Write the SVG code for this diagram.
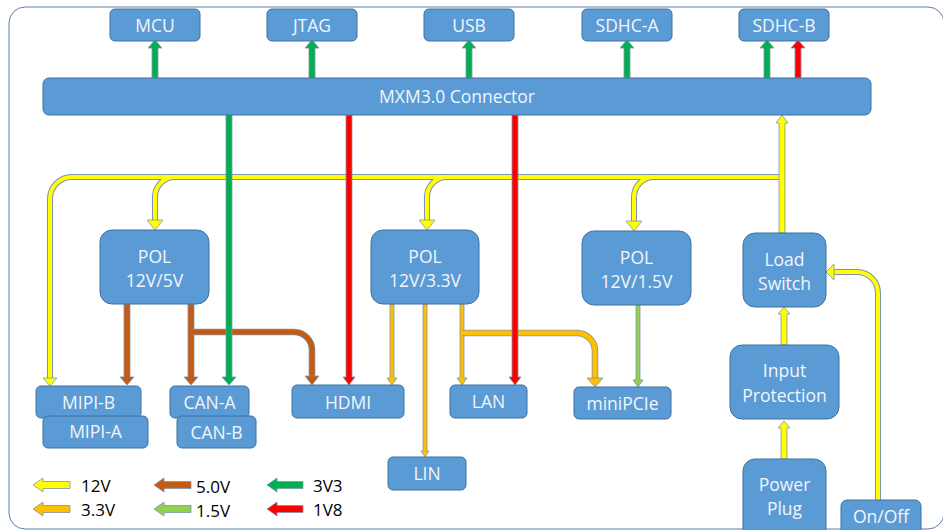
<svg xmlns="http://www.w3.org/2000/svg" xmlns:xlink="http://www.w3.org/1999/xlink" width="943" height="530" viewBox="0 0 943 530">
<style>
.box{fill:#5B9BD5;stroke:#41719C;stroke-width:1}
.lbl{font-family:"Open Sans","Liberation Sans",sans-serif;font-size:17.5px;fill:#F2F5FA;text-anchor:middle}
.leg{font-family:"Open Sans","Liberation Sans",sans-serif;font-size:17px;fill:#000}
.blk{stroke:#7E93AE;stroke-width:0.8;stroke-linejoin:miter}
.wo{fill:none;stroke:#7E93AE;stroke-linejoin:round}
.wf{fill:none;stroke-linejoin:round}
.y{fill:#FFFF00}.o{fill:#FFC000}.b{fill:#C55A11}.g{fill:#00B050}.r{fill:#FF0000}.lg{fill:#92D050}
</style>
<defs>
<path id="w1" d="M 780 177 H 72 A 22 22 0 0 0 50 199 V 379"/>
<path id="w2" d="M 780 177 H 175 A 20 20 0 0 0 155 197 V 221"/>
<path id="w3" d="M 780 177 H 447 A 20 20 0 0 0 427 197 V 221"/>
<path id="w4" d="M 780 177 H 654 A 20 20 0 0 0 634 197 V 222"/>
<path id="w5" d="M 878 500 V 293 A 21 21 0 0 0 857 272 H 833"/>
<path id="wb" d="M 191 332 H 294 A 18 18 0 0 1 312 350 V 377"/>
<path id="wo" d="M 462 333 H 577 A 18 18 0 0 1 595 351 V 379"/>
</defs>
<rect id="frame" x="9" y="7" width="935" height="522" rx="16" fill="none" stroke="#5B7FA6" stroke-width="1"/>
<g id="connectors">
<!-- top 3V3/1V8 arrows -->
<polygon class="blk g" points="152,78 152,48 148,48 155,40 162,48 158,48 158,78"/>
<polygon class="blk g" points="309,78 309,48 305,48 312,40 319,48 315,48 315,78"/>
<polygon class="blk g" points="466,78 466,48 462,48 469,40 476,48 472,48 472,78"/>
<polygon class="blk g" points="624,78 624,48 620,48 627,40 634,48 630,48 630,78"/>
<polygon class="blk g" points="764,78 764,48 760,48 767,40 774,48 770,48 770,78"/>
<polygon class="blk r" points="795,78 795,48 791,48 798,40 805,48 801,48 801,78"/>
<!-- 12V wires: outlines first, then fills -->
<use xlink:href="#w1" class="wo" stroke-width="6"/>
<use xlink:href="#w2" class="wo" stroke-width="6"/>
<use xlink:href="#w3" class="wo" stroke-width="6"/>
<use xlink:href="#w4" class="wo" stroke-width="6"/>
<use xlink:href="#w5" class="wo" stroke-width="6"/>
<use xlink:href="#w1" class="wf" stroke="#FFFF00" stroke-width="4"/>
<use xlink:href="#w2" class="wf" stroke="#FFFF00" stroke-width="4"/>
<use xlink:href="#w3" class="wf" stroke="#FFFF00" stroke-width="4"/>
<use xlink:href="#w4" class="wf" stroke="#FFFF00" stroke-width="4"/>
<use xlink:href="#w5" class="wf" stroke="#FFFF00" stroke-width="4"/>
<polygon class="blk y" points="43,378 57,378 50,386"/>
<polygon class="blk y" points="147,220 163,220 155,230"/>
<polygon class="blk y" points="419,220 435,220 427,230"/>
<polygon class="blk y" points="626,221 642,221 634,231"/>
<polygon class="blk y" points="834,264 834,280 826,272"/>
<polygon class="blk y" points="779,233 779,123 776,123 782,115 788,123 785,123 785,233"/>
<polygon class="blk y" points="781,345 781,314 778,314 784,307 790,314 787,314 787,345"/>
<polygon class="blk y" points="781,459 781,428 778,428 784,421 790,428 787,428 787,459"/>
<!-- 5.0V -->
<polygon class="blk b" points="124,304 124,377 120,377 127,385 134,377 130,377 130,304"/>
<polygon class="blk b" points="188,304 188,377 184,377 191,385 198,377 194,377 194,304"/>
<use xlink:href="#wb" class="wo" stroke-width="6.6"/>
<use xlink:href="#wb" class="wf" stroke="#C55A11" stroke-width="5"/>
<polygon class="blk b" points="305,376 319,376 312,385"/>
<!-- 3.3V -->
<polygon class="blk o" points="390,304 390,378 387,378 392,385 397,378 394,378 394,304"/>
<polygon class="blk o" points="423,304 423,451 421,451 425,457 429,451 427,451 427,304"/>
<polygon class="blk o" points="460,304 460,378 457,378 462,385 467,378 464,378 464,304"/>
<use xlink:href="#wo" class="wo" stroke-width="6.6"/>
<use xlink:href="#wo" class="wf" stroke="#FFC000" stroke-width="5"/>
<polygon class="blk o" points="587,378 603,378 595,387"/>
<!-- 1.5V -->
<polygon class="blk lg" points="636,305 636,380 633,380 638,387 643,380 640,380 640,305"/>
<!-- 3V3 / 1V8 from connector -->
<polygon class="blk g" points="226,115 226,377 222,377 229,385 236,377 232,377 232,115"/>
<polygon class="blk r" points="346,115 346,377 343,377 349,385 355,377 352,377 352,115"/>
<polygon class="blk r" points="512,115 512,377 509,377 515,385 521,377 518,377 518,115"/>
</g>
<g id="n-mcu"><rect class="box" x="110" y="9" width="90" height="32" rx="5"/><text class="lbl" x="155" y="32">MCU</text></g>
<g id="n-jtag"><rect class="box" x="267" y="9" width="90" height="32" rx="5"/><text class="lbl" x="312" y="32">JTAG</text></g>
<g id="n-usb"><rect class="box" x="424" y="9" width="90" height="32" rx="5"/><text class="lbl" x="469" y="32">USB</text></g>
<g id="n-sdhca"><rect class="box" x="582" y="9" width="90" height="32" rx="5"/><text class="lbl" x="627" y="32">SDHC-A</text></g>
<g id="n-sdhcb"><rect class="box" x="739" y="9" width="90" height="32" rx="5"/><text class="lbl" x="784" y="32">SDHC-B</text></g>
<g id="n-mxm"><rect class="box" x="43" y="78" width="828" height="37" rx="6"/><text class="lbl" x="457" y="103">MXM3.0 Connector</text></g>
<g id="n-pol5"><rect class="box" x="100" y="230" width="109" height="74" rx="12"/><text class="lbl" x="154.5" y="263">POL</text><text class="lbl" x="154.5" y="287">12V/5V</text></g>
<g id="n-pol33"><rect class="box" x="371" y="230" width="108" height="74" rx="12"/><text class="lbl" x="425" y="263">POL</text><text class="lbl" x="425" y="287">12V/3.3V</text></g>
<g id="n-pol15"><rect class="box" x="582" y="231" width="109" height="74" rx="12"/><text class="lbl" x="636.5" y="264">POL</text><text class="lbl" x="636.5" y="288">12V/1.5V</text></g>
<g id="n-load"><rect class="box" x="743" y="233" width="83" height="74" rx="12"/><text class="lbl" x="784.5" y="266">Load</text><text class="lbl" x="784.5" y="290">Switch</text></g>
<g id="n-input"><rect class="box" x="730" y="345" width="109" height="74" rx="12"/><text class="lbl" x="784.5" y="377">Input</text><text class="lbl" x="784.5" y="402">Protection</text></g>
<g id="n-power"><rect class="box" x="743" y="459" width="83" height="82" rx="12"/><text class="lbl" x="784.5" y="491">Power</text><text class="lbl" x="784.5" y="515">Plug</text></g>
<g id="n-onoff"><rect class="box" x="841" y="500" width="80" height="40" rx="6"/><text class="lbl" x="881" y="523">On/Off</text></g>
<g id="n-mipib"><rect class="box" x="36" y="386" width="105" height="32" rx="5"/><text class="lbl" x="88.5" y="409">MIPI-B</text></g>
<g id="n-mipia"><rect class="box" x="43" y="416" width="105" height="32" rx="5"/><text class="lbl" x="95.5" y="438">MIPI-A</text></g>
<g id="n-cana"><rect class="box" x="170" y="386" width="79" height="32" rx="5"/><text class="lbl" x="209.5" y="409">CAN-A</text></g>
<g id="n-canb"><rect class="box" x="177" y="416" width="79" height="32" rx="5"/><text class="lbl" x="216.5" y="439">CAN-B</text></g>
<g id="n-hdmi"><rect class="box" x="292" y="385" width="112" height="33" rx="5"/><text class="lbl" x="348" y="409">HDMI</text></g>
<g id="n-lan"><rect class="box" x="450" y="385" width="77" height="33" rx="5"/><text class="lbl" x="488.5" y="408">LAN</text></g>
<g id="n-minipcie"><rect class="box" x="574" y="387" width="97" height="32" rx="5"/><text class="lbl" x="622.5" y="410">miniPCIe</text></g>
<g id="n-lin"><rect class="box" x="388" y="457" width="78" height="33" rx="5"/><text class="lbl" x="427" y="480">LIN</text></g>
<g id="legend">
<polygon class="blk y" points="33,485 43,478 43,481.5 70,481.5 70,488.5 43,488.5 43,492"/>
<text class="leg" x="81" y="492">12V</text>
<polygon class="blk b" points="154,485 164,478 164,481.5 191,481.5 191,488.5 164,488.5 164,492"/>
<text class="leg" x="196" y="493">5.0V</text>
<polygon class="blk g" points="267,485 277,478 277,481.5 303,481.5 303,488.5 277,488.5 277,492"/>
<text class="leg" x="313" y="492">3V3</text>
<polygon class="blk o" points="33,509 43,502 43,505.5 70,505.5 70,512.5 43,512.5 43,516"/>
<text class="leg" x="81" y="516">3.3V</text>
<polygon class="blk lg" points="154,509 164,502 164,505.5 191,505.5 191,512.5 164,512.5 164,516"/>
<text class="leg" x="196" y="517">1.5V</text>
<polygon class="blk r" points="267,509 277,502 277,505.5 303,505.5 303,512.5 277,512.5 277,516"/>
<text class="leg" x="313" y="516">1V8</text>
</g>
</svg>
